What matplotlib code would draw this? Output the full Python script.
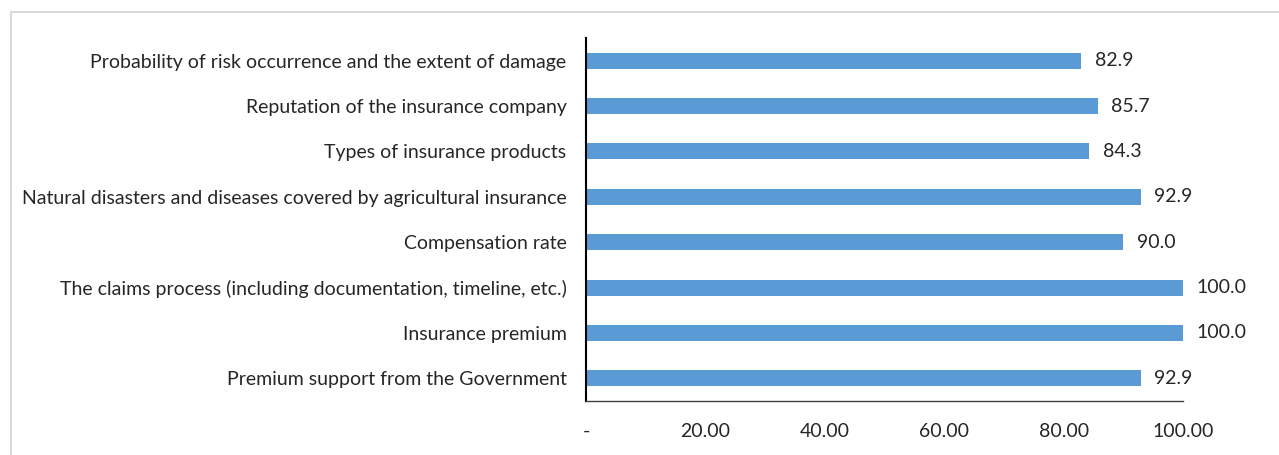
import matplotlib
matplotlib.use("Agg")
import matplotlib.pyplot as plt
from matplotlib.lines import Line2D

categories = [
    "Probability of risk occurrence and the extent of damage",
    "Reputation of the insurance company",
    "Types of insurance products",
    "Natural disasters and diseases covered by agricultural insurance",
    "Compensation rate",
    "The claims process (including documentation, timeline, etc.)",
    "Insurance premium",
    "Premium support from the Government",
]
values = [82.9, 85.7, 84.3, 92.9, 90.0, 100.0, 100.0, 92.9]
xticks = [0, 20, 40, 60, 80, 100]
xticklabels = ["-", "20.00", "40.00", "60.00", "80.00", "100.00"]

plt.rcParams['font.family'] = ['Lato', 'DejaVu Sans']
text_color = '#262626'
bar_color = '#5B9BD5'
fs = 14

W, H = 1279, 455
fig = plt.figure(figsize=(W / 100, H / 100), dpi=100)
ax = fig.add_axes([586 / W, (H - 401) / H, (1183 - 586) / W, (401 - 38) / H])

ypos = list(range(len(categories)))[::-1]
ax.barh(ypos, values, height=0.35, color=bar_color)
for y, v in zip(ypos, values):
    ax.text(v + 2.3, y, f"{v:.1f}", va='center', ha='left', fontsize=fs, color=text_color)

ax.set_xlim(0, 100)
ax.set_ylim(-0.5, len(categories) - 0.5)
ax.set_yticks(ypos)
ax.set_yticklabels(categories, fontsize=fs, color=text_color)
ax.set_xticks(xticks)
ax.set_xticklabels(xticklabels, fontsize=fs, color=text_color)
ax.tick_params(axis='y', length=0, pad=14)
ax.tick_params(axis='x', length=0, pad=16)

for s in ['top', 'right']:
    ax.spines[s].set_visible(False)
ax.spines['left'].set_color('black')
ax.spines['left'].set_linewidth(1.5)
ax.spines['bottom'].set_color('#404040')
ax.spines['bottom'].set_linewidth(1.0)

# light frame lines (top and left) of the chart area
fig.add_artist(Line2D([11 / W, 11 / W], [0, (H - 12) / H], transform=fig.transFigure, color='#d9d9d9', lw=1.5))
fig.add_artist(Line2D([11 / W, 1], [(H - 12) / H, (H - 12) / H], transform=fig.transFigure, color='#d9d9d9', lw=1.5))

fig.savefig("out.png", dpi=100, facecolor='white')
